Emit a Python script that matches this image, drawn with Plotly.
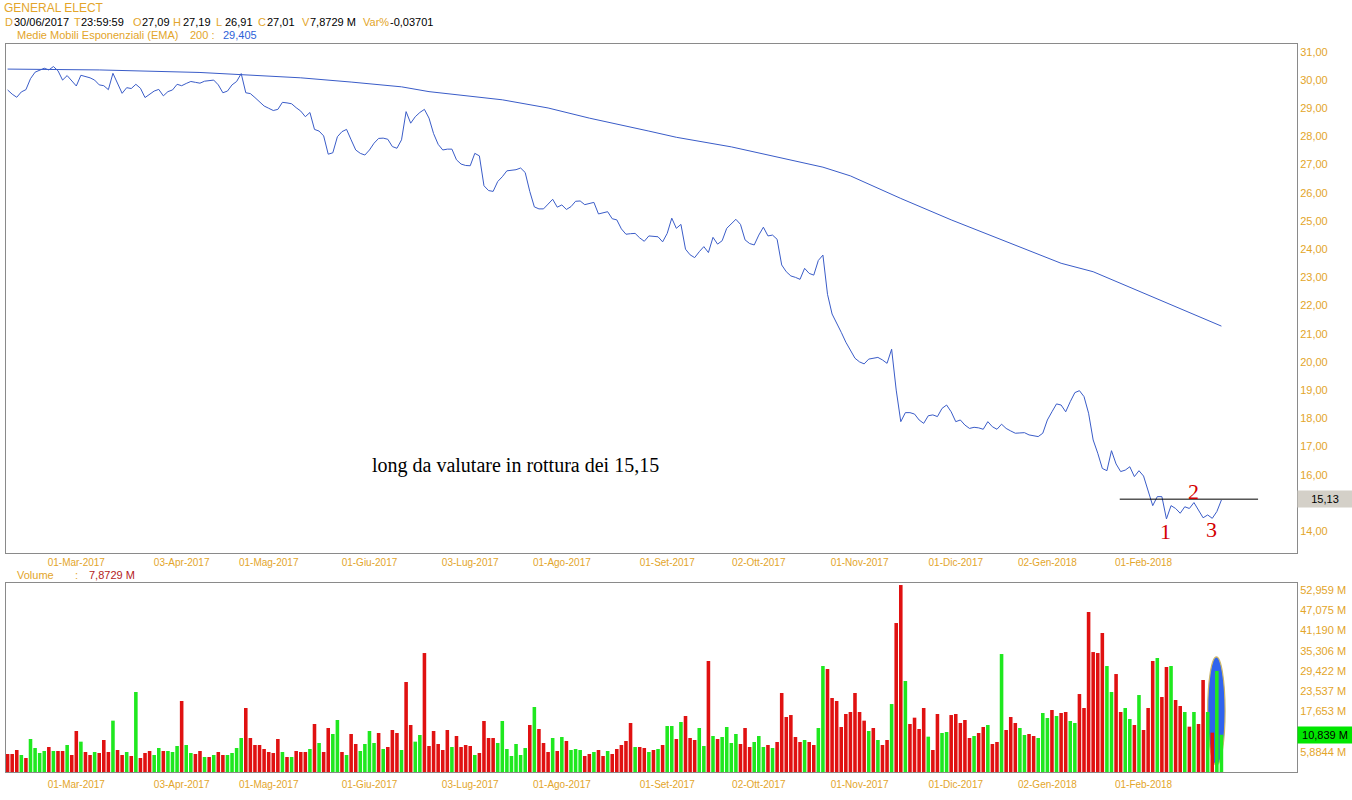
import pandas as pd
import plotly.graph_objects as go

# ---------------- data ----------------
start_date = "2017-02-07"
end_date = "2018-02-27"
market_holidays = ["2017-02-20", "2017-04-14", "2017-05-29", "2017-07-04", "2017-09-04",
                   "2017-11-23", "2017-12-25", "2018-01-01", "2018-01-15", "2018-02-19"]
_days = pd.bdate_range(start_date, end_date)
_days = _days[~_days.isin(pd.to_datetime(market_holidays))]
dates = [d.strftime("%Y-%m-%d") for d in _days]

close = [
    29.65, 29.50, 29.39, 29.58, 29.66, 30.05, 30.28, 30.35, 30.42, 30.36,
    30.48, 30.33, 30.00, 30.16, 29.98, 29.79, 30.17, 30.13, 30.08, 30.00,
    29.83, 29.80, 29.66, 30.24, 29.89, 29.53, 29.73, 29.70, 29.85, 29.71,
    29.38, 29.51, 29.61, 29.67, 29.44, 29.59, 29.65, 29.85, 29.80, 29.88,
    29.95, 29.92, 29.89, 29.96, 29.98, 30.00, 29.83, 29.55, 29.61, 29.83,
    29.95, 30.23, 29.55, 29.52, 29.38, 29.22, 29.08, 29.00, 28.92, 28.96,
    29.21, 29.19, 29.16, 29.02, 28.90, 28.70, 28.85, 28.25, 28.19, 28.02,
    27.37, 27.42, 27.99, 28.17, 28.25, 27.88, 27.52, 27.40, 27.34, 27.52,
    27.76, 27.93, 27.94, 27.90, 27.64, 27.58, 27.88, 28.88, 28.47, 28.70,
    28.85, 28.96, 28.65, 28.10, 27.72, 27.52, 27.55, 27.55, 27.17, 27.02,
    26.97, 26.96, 27.40, 27.31, 26.25, 26.08, 26.05, 26.40, 26.57, 26.78,
    26.79, 26.82, 26.88, 26.72, 26.05, 25.50, 25.43, 25.43, 25.60, 25.77,
    25.49, 25.57, 25.41, 25.51, 25.70, 25.71, 25.58, 25.62, 25.66, 25.25,
    25.30, 25.33, 25.08, 25.04, 24.72, 24.53, 24.55, 24.56, 24.40, 24.28,
    24.47, 24.45, 24.44, 24.26, 24.56, 25.10, 24.74, 24.88, 24.00, 23.80,
    23.70, 23.91, 24.09, 23.88, 24.42, 24.18, 24.30, 24.74, 24.90, 25.06,
    24.88, 24.33, 24.20, 24.15, 24.50, 24.78, 24.47, 24.50, 24.35, 23.44,
    23.20, 23.05, 23.00, 22.93, 23.32, 23.14, 23.08, 23.60, 23.79, 22.40,
    21.70, 21.40, 21.05, 20.70, 20.40, 20.13, 20.00, 19.93, 20.10, 20.12,
    20.16, 20.07, 19.95, 20.45, 19.00, 17.88, 18.20, 18.20, 18.15, 17.94,
    17.82, 18.09, 18.12, 18.06, 18.35, 18.47, 18.23, 17.88, 17.94, 17.76,
    17.64, 17.68, 17.66, 17.61, 17.88, 17.70, 17.61, 17.79, 17.64, 17.55,
    17.47, 17.48, 17.49, 17.41, 17.38, 17.35, 17.47, 17.94, 18.23, 18.51,
    18.47, 18.23, 18.59, 18.91, 18.98, 18.77, 18.18, 17.23, 16.76, 16.22,
    16.14, 16.85, 16.38, 16.11, 16.16, 16.28, 15.93, 16.14, 15.95, 15.45,
    14.90, 15.22, 15.22, 14.43, 14.90, 14.80, 14.63, 14.86, 14.80, 15.01,
    14.75, 14.47, 14.57, 14.45, 14.69, 15.10,
]

# EMA 200 at sample dates
ema_dates = ["2017-02-07", "2017-03-08", "2017-04-07", "2017-05-10", "2017-05-25",
             "2017-06-12", "2017-06-20", "2017-07-13", "2017-07-27", "2017-08-09",
             "2017-08-28", "2017-09-06", "2017-09-22", "2017-10-06", "2017-10-20",
             "2017-10-30", "2017-11-14", "2017-11-30", "2017-12-15", "2018-01-05",
             "2018-01-17", "2018-02-02", "2018-02-27"]
ema_values = [30.39, 30.36, 30.27, 30.08, 29.93,
              29.76, 29.59, 29.30, 29.01, 28.65,
              28.19, 27.97, 27.63, 27.28, 26.91,
              26.60, 25.80, 25.04, 24.33, 23.50,
              23.20, 22.37, 21.27]

volume = [
    5.24, 5.24, 6.40, 4.95, 4.07, 9.60, 6.98, 5.53, 6.11, 7.27,
    6.11, 6.11, 6.11, 7.86, 4.95, 11.93, 8.83, 5.82, 4.95, 5.82,
    5.53, 9.31, 5.82, 14.94, 6.40, 4.95, 5.82, 4.66, 23.28, 4.07,
    5.53, 6.11, 4.95, 6.98, 6.11, 6.11, 5.82, 7.56, 20.66, 7.86,
    5.53, 5.24, 6.11, 4.36, 4.36, 4.95, 5.82, 4.95, 4.95, 5.53,
    6.98, 9.89, 18.62, 9.89, 7.86, 7.86, 6.69, 5.82, 5.53, 9.60,
    5.82, 4.36, 4.36, 6.11, 5.82, 5.82, 6.69, 13.97, 8.44, 5.82,
    12.80, 11.06, 15.13, 5.82, 4.95, 11.06, 8.15, 6.11, 8.15, 11.93,
    8.44, 11.35, 6.69, 7.27, 12.22, 11.35, 6.40, 26.19, 13.67, 8.83,
    10.77, 34.62, 7.56, 11.93, 8.15, 6.40, 12.22, 7.27, 10.47, 7.27,
    7.86, 7.56, 4.95, 5.53, 14.84, 9.89, 9.89, 8.44, 14.84, 6.69,
    4.66, 8.15, 4.95, 6.98, 13.67, 18.91, 12.51, 8.44, 5.82, 9.89,
    6.11, 10.18, 9.02, 6.40, 6.69, 6.40, 4.66, 5.24, 5.82, 6.40,
    4.66, 6.11, 5.24, 6.69, 7.86, 9.02, 14.26, 7.27, 7.27, 6.98,
    5.82, 6.40, 6.69, 7.86, 13.38, 13.38, 9.60, 14.55, 16.29, 9.89,
    9.31, 12.80, 7.56, 32.30, 10.47, 9.60, 10.18, 13.09, 8.44, 11.06,
    8.15, 12.80, 7.27, 8.73, 10.47, 7.27, 7.86, 6.98, 8.73, 22.99,
    16.00, 16.58, 10.18, 8.73, 9.31, 8.73, 7.86, 12.80, 30.84, 29.97,
    21.53, 20.66, 13.09, 16.88, 17.46, 22.99, 17.46, 14.94, 11.93, 12.80,
    9.31, 7.86, 9.31, 19.78, 43.35, 54.41, 26.48, 13.97, 15.81, 12.51,
    18.62, 10.28, 6.40, 16.88, 11.35, 11.64, 16.58, 16.88, 14.26, 15.13,
    9.89, 10.47, 11.35, 13.09, 13.67, 8.15, 8.73, 34.33, 12.22, 16.00,
    14.26, 12.80, 10.77, 11.06, 10.47, 9.89, 17.17, 15.71, 18.04, 16.29,
    17.17, 17.46, 14.84, 14.26, 22.69, 18.62, 46.55, 34.91, 34.62, 40.44,
    30.84, 23.28, 28.51, 17.46, 18.62, 15.42, 13.67, 22.40, 12.22, 18.62,
    32.30, 33.17, 21.82, 30.55, 30.84, 20.95, 19.20, 17.46, 13.19, 17.46,
    13.97, 26.77, 17.46, 11.45, 29.39, 10.84,
]

# G = up day (green bar), R = down day (red bar)
direction = (
    "RRRGRGGGGR" "GRRGRRGRRG" "RRRGRRGRGR" "RRGGRGGGRG" "GRRGRGRRGG"
    "GGRRRRRRRR" "GRGRRRGRGR" "RGGRGRRGGG" "GRGRRRGRRG" "GRRRRRRGRR"
    "RRGRRRRGGG" "GGGGRGRRRG" "RGRGGGRRGR" "RGRRRRRGRR" "GRGRGGRGRR"
    "RGGRGRGGGG" "RRRGGGRGRR" "RRRRGRRGGR" "RRRRRRRRGR" "GRRGRRGRRR"
    "RGRRGGRRRR" "RGRRGRRGRR" "RGGRRGGGRG" "RRGGRRRRRR" "GGRRGGRGRR"
    "RGRRGRRGRG" "RRGRGG"
)

tick_dates = ["2017-03-01", "2017-04-03", "2017-05-01", "2017-06-01", "2017-07-03", "2017-08-01",
              "2017-09-01", "2017-10-02", "2017-11-01", "2017-12-01", "2018-01-02", "2018-02-01"]
tick_labels = ["01-Mar-2017", "03-Apr-2017", "01-Mag-2017", "01-Giu-2017", "03-Lug-2017", "01-Ago-2017",
               "01-Set-2017", "02-Ott-2017", "01-Nov-2017", "01-Dic-2017", "02-Gen-2018", "01-Feb-2018"]

# the 15,00 label sits under the 15,13 value box in the original
price_ticks = [14, 16, 17, 18, 19, 20, 21, 22, 23, 24, 25, 26, 27, 28, 29, 30, 31]
price_tick_labels = ["%d,00" % v for v in price_ticks]
volume_ticks = [5.8844, 17.653, 23.537, 29.422, 35.306, 41.190, 47.075, 52.959]
volume_tick_labels = ["5,8844 M", "17,653 M", "23,537 M", "29,422 M", "35,306 M", "41,190 M",
                      "47,075 M", "52,959 M"]

support_level = 15.13
last_volume_label = "10,839 M"

# ---------------- styles ----------------
GOLD = "#e3a52a"
BLUE = "#3a5cc8"
RED = "#e01111"
GREEN = "#1fe81f"
BORDER = "#8a8a8a"
FONT = "Arial, Liberation Sans, sans-serif"
SERIF = "Times New Roman, Liberation Serif, serif"

W, H = 1352, 800
PL, PR, PT, PB = 6, 1297, 44, 772


def pxx(X):
    return (X - PL) / (PR - PL)


def pxy(Y):
    return (PB - Y) / (PB - PT)


fig = go.Figure()
fig.add_trace(go.Bar(
    x=dates, y=volume, xaxis="x2", yaxis="y2",
    marker=dict(color=[GREEN if d == "G" else RED for d in direction], line=dict(width=0)),
    hoverinfo="skip"))
fig.add_trace(go.Scatter(x=dates, y=close, mode="lines", line=dict(color=BLUE, width=1),
                         xaxis="x", yaxis="y", hoverinfo="skip"))
fig.add_trace(go.Scatter(x=ema_dates, y=ema_values, mode="lines", line=dict(color=BLUE, width=1),
                         xaxis="x", yaxis="y", hoverinfo="skip"))

axis_common = dict(showgrid=False, zeroline=False, showline=True, mirror=True,
                   linecolor=BORDER, linewidth=1, ticks="")
x_common = dict(axis_common, type="category", categoryorder="array", categoryarray=dates,
                range=[-0.35, 281.5], tickvals=tick_dates, ticktext=tick_labels, tickangle=0,
                tickfont=dict(family=FONT, size=10, color=GOLD))

price_bottom = pxy(553)
vol_top = pxy(583)

fig.update_layout(
    width=W, height=H,
    margin=dict(l=PL, r=W - PR, t=PT, b=H - PB),
    paper_bgcolor="white", plot_bgcolor="white",
    showlegend=False, bargap=0.22,
    xaxis=dict(x_common, anchor="y", domain=[0, 1]),
    xaxis2=dict(x_common, anchor="y2", domain=[0, 1], matches="x", ticklabelstandoff=3),
    yaxis=dict(axis_common, anchor="x", domain=[price_bottom, 1], side="right",
               range=[13.22, 31.28], tickvals=price_ticks, ticktext=price_tick_labels,
               tickfont=dict(family=FONT, size=11, color=GOLD)),
    yaxis2=dict(axis_common, anchor="x2", domain=[0, vol_top], side="right",
                range=[0, 55.0], tickvals=volume_ticks, ticktext=volume_tick_labels,
                tickfont=dict(family=FONT, size=11, color=GOLD)),
)

# support line
fig.add_shape(type="line", xref="x", yref="y", x0=242.8, x1=273.0,
              y0=support_level, y1=support_level, line=dict(color="black", width=1))
# blue ellipse on the volume pane
fig.add_shape(type="circle", xref="x2", yref="y2", x0=262.0, x1=265.8, y0=2.0, y1=33.5,
              fillcolor="#2f63ee", line=dict(color="#cdb86a", width=1.2), layer="below")

ann = []


def text(X, Y, s, color, size=11, family=FONT, anchor="left"):
    ann.append(dict(x=pxx(X), y=pxy(Y), xref="paper", yref="paper", text=s, showarrow=False,
                    xanchor=anchor, yanchor="middle", font=dict(family=family, size=size, color=color),
                    borderpad=0))


# header
text(3, 8, "GENERAL ELECT", GOLD, size=12)
header = [(4, "D", GOLD), (13, "30/06/2017", "black"), (73, "T", GOLD), (80, "23:59:59", "black"),
          (132, "O", GOLD), (141, "27,09", "black"), (172, "H", GOLD), (182, "27,19", "black"),
          (215, "L", GOLD), (224, "26,91", "black"), (257, "C", GOLD), (266, "27,01", "black"),
          (301, "V", GOLD), (309, "7,8729 M", "black"), (362, "Var%", GOLD), (389, "-0,03701", "black")]
for X, s, c in header:
    text(X, 22, s, c)
text(16, 35, "Medie Mobili Esponenziali (EMA)", GOLD)
text(189, 35, "200 :", GOLD)
text(222, 35, "29,405", "#2d62d8")

# volume pane title
text(16, 575, "Volume", GOLD)
text(74, 575, ":", GOLD)
text(88, 575, "7,8729 M", "#b41c1c")

# chart comments
text(515, 466, "long da valutare in rottura dei 15,15", "black", size=20, family=SERIF, anchor="center")
text(1165, 531, "1", "#d40000", size=22, family=SERIF, anchor="center")
text(1193, 491, "2", "#d40000", size=22, family=SERIF, anchor="center")
text(1211, 529, "3", "#d40000", size=22, family=SERIF, anchor="center")

# right-side value boxes
ann.append(dict(x=1, y=support_level, xref="paper", yref="y", text="15,13", showarrow=False,
                xanchor="left", yanchor="middle", bgcolor="#d4d0c8", width=52, height=14,
                borderpad=1, font=dict(family=FONT, size=11, color="black"), align="center"))
ann.append(dict(x=1, y=10.839, xref="paper", yref="y2", text=last_volume_label, showarrow=False,
                xanchor="left", yanchor="middle", bgcolor="#00e600", width=52, height=14,
                borderpad=1, font=dict(family=FONT, size=11, color="black"), align="center"))

fig.update_layout(annotations=ann)
fig.write_html("out.html", config={"displayModeBar": False},
               post_script="document.body.style.margin='0px';")
